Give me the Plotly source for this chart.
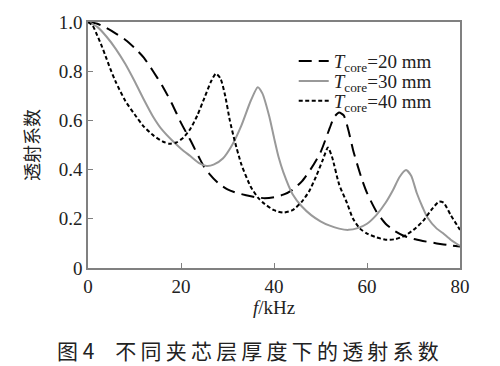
import plotly.graph_objects as go

# T_core = 20 mm (long dash)
f20 = [0, 2, 4, 6, 8, 10, 12, 14, 16, 18, 20, 22, 24, 25, 26, 28, 30, 32, 34, 36, 38, 40, 42, 44, 46, 48, 50, 52, 53, 54, 55, 56, 57, 58, 59, 60, 62, 64, 66, 68, 70, 72, 75, 78, 80]
t20 = [1.0, 0.993, 0.975, 0.953, 0.928, 0.895, 0.855, 0.80, 0.74, 0.67, 0.59, 0.52, 0.445, 0.41, 0.385, 0.345, 0.32, 0.305, 0.296, 0.288, 0.284, 0.288, 0.298, 0.318, 0.352, 0.405, 0.47, 0.57, 0.615, 0.632, 0.62, 0.56, 0.48, 0.415, 0.355, 0.305, 0.23, 0.18, 0.15, 0.13, 0.118, 0.11, 0.1, 0.092, 0.087]

# T_core = 30 mm (grey solid)
f30 = [0, 2, 4, 6, 8, 10, 12, 14, 16, 18, 20, 22, 24, 25.5, 27, 29, 31, 33, 35, 36.5, 37.5, 39, 40, 41, 42, 44, 46, 48, 50, 52, 54, 56, 58, 60, 62, 64, 65.6, 67, 68.4, 69.5, 70.7, 72, 73, 75, 76.3, 78, 80]
t30 = [1.0, 0.98, 0.94, 0.89, 0.83, 0.76, 0.685, 0.615, 0.56, 0.52, 0.485, 0.455, 0.425, 0.415, 0.42, 0.445, 0.5, 0.58, 0.68, 0.735, 0.71, 0.615, 0.53, 0.45, 0.39, 0.3, 0.25, 0.215, 0.19, 0.172, 0.16, 0.155, 0.162, 0.18, 0.215, 0.265, 0.317, 0.37, 0.398, 0.375, 0.305, 0.245, 0.205, 0.16, 0.142, 0.115, 0.09]

# T_core = 40 mm (short dash)
f40 = [0, 1, 2, 3, 4, 5, 6, 8, 10, 12, 14, 16, 17.5, 19, 20.5, 22, 23.5, 25, 26.5, 27.5, 28.5, 29.5, 30.5, 31.5, 33, 35, 36.6, 38, 40, 42, 44, 46, 47.5, 49, 50.5, 51.6, 52.5, 54, 55.7, 57, 58.5, 60, 62, 64, 66, 68, 70, 72, 74, 75.5, 76.5, 78, 80]
t40 = [1.0, 0.985, 0.945, 0.9, 0.85, 0.8, 0.755, 0.68, 0.625, 0.575, 0.54, 0.515, 0.505, 0.51, 0.53, 0.565, 0.62, 0.69, 0.76, 0.79, 0.77, 0.7, 0.6, 0.52, 0.42, 0.33, 0.285, 0.26, 0.235, 0.225, 0.235, 0.27, 0.31, 0.37, 0.44, 0.49, 0.45, 0.34, 0.264, 0.2, 0.16, 0.14, 0.125, 0.115, 0.117, 0.13, 0.155, 0.19, 0.24, 0.27, 0.265, 0.215, 0.155]

names = ["<i>T</i><sub>core</sub>=20 mm", "<i>T</i><sub>core</sub>=30 mm", "<i>T</i><sub>core</sub>=40 mm"]
xticks = [0, 20, 40, 60, 80]
yticks = [0, 0.2, 0.4, 0.6, 0.8, 1.0]
yticklabels = ["0", "0.2", "0.4", "0.6", "0.8", "1.0"]
caption_head = "图 4"
caption_body = "不同夹芯层厚度下的透射系数"

SERIF = "Liberation Serif, Times New Roman, serif"
CJK = "Noto Sans CJK SC"

fig = go.Figure()
fig.add_trace(go.Scatter(x=f20, y=t20, mode="lines", name=names[0], legend="legend",
                         line=dict(color="black", width=2, dash="13px,7px", shape="spline", smoothing=0.6)))
fig.add_trace(go.Scatter(x=f30, y=t30, mode="lines", name=names[1], legend="legend2",
                         line=dict(color="#999999", width=2, shape="spline", smoothing=0.6)))
fig.add_trace(go.Scatter(x=f40, y=t40, mode="lines", name=names[2], legend="legend3",
                         line=dict(color="black", width=2, dash="4px,2.5px", shape="spline", smoothing=0.6)))

axis_common = dict(showline=True, linecolor="#808080", linewidth=1.5, mirror=True,
                   ticks="inside", ticklen=5, tickcolor="#808080", tickwidth=1.2,
                   showgrid=False, zeroline=False, automargin=False,
                   tickfont=dict(family=SERIF, size=19, color="#222"))

fig.update_xaxes(range=[0, 80], tickvals=xticks, **axis_common,
                 title=dict(text="<i>f</i>/kHz", font=dict(family=SERIF, size=19, color="#222"), standoff=0))
fig.update_yaxes(range=[0, 1.0], tickvals=yticks, ticktext=yticklabels, **axis_common,
                 title=dict(text="透射系数", font=dict(family=CJK, size=18, color="#222"), standoff=14))

leg_common = dict(x=0.553, xanchor="left", yanchor="middle", bgcolor="rgba(0,0,0,0)",
                  borderwidth=0, font=dict(family=SERIF, size=19, color="#222"))

fig.update_layout(
    width=492, height=358,
    margin=dict(l=80, r=40, t=14, b=98),
    plot_bgcolor="white", paper_bgcolor="white",
    showlegend=True,
    legend=dict(y=0.841, **leg_common),
    legend2=dict(y=0.760, **leg_common),
    legend3=dict(y=0.679, **leg_common),
    annotations=[dict(text=caption_head + "\u2003" + "\u2009".join(caption_body), xref="paper", yref="paper",
                      x=0.43, y=-0.333, xanchor="center", yanchor="middle", showarrow=False,
                      font=dict(family=CJK, size=21, color="#222"))],
)

fig.write_html("out.html")
